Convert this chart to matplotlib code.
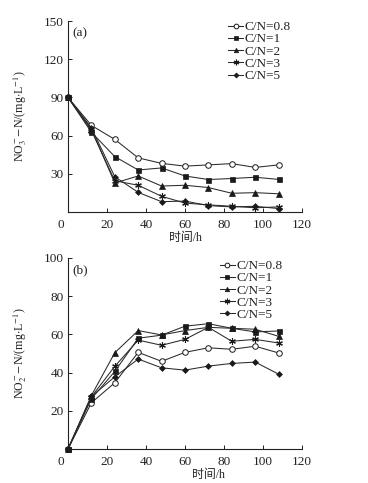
import matplotlib
matplotlib.use("Agg")
import matplotlib.pyplot as plt
import matplotlib.transforms as mtransforms

plt.rcParams['font.family'] = ['Liberation Serif', 'Noto Sans CJK SC']
plt.rcParams['mathtext.fontset'] = 'stix'

time_h = [0, 12, 24, 36, 48, 60, 72, 84, 96, 108]
labels = ['C/N=0.8', 'C/N=1', 'C/N=2', 'C/N=3', 'C/N=5']

no3 = {
    'C/N=0.8': [90, 68, 57, 42.5, 38.2, 36, 37, 38, 35, 37],
    'C/N=1':   [90, 62.6, 43.5, 33, 34.6, 28.3, 25.5, 26.3, 27.3, 25.6],
    'C/N=2':   [90, 65, 22.8, 28.3, 20.4, 21, 19.2, 14.7, 15.2, 14.3],
    'C/N=3':   [90, 64, 24.5, 21, 12.3, 7, 5.6, 4.5, 3.3, 4],
    'C/N=5':   [90, 66, 27.7, 15.4, 8.1, 8.6, 5, 4, 4.5, 2.7],
}
no2 = {
    'C/N=0.8': [0, 24.2, 34.7, 50.6, 45.9, 50.6, 53, 52.2, 53.8, 50.3],
    'C/N=1':   [0, 26.3, 40.6, 58, 59.6, 64.3, 65.6, 63.2, 61.3, 61.8],
    'C/N=2':   [0, 28, 50.4, 62, 59.7, 62, 63.7, 63.2, 62.7, 59],
    'C/N=3':   [0, 27.3, 43.3, 57, 54.3, 57.4, 63.7, 56.4, 57.4, 55.5],
    'C/N=5':   [0, 27.5, 37.8, 47.1, 42.5, 41.3, 43.4, 44.8, 45.5, 39.2],
}

styles = {
    'C/N=0.8': dict(marker='o', mfc='white', ms=4.0, mew=0.7),
    'C/N=1':   dict(marker='s', mfc='#1a1a1a', ms=3.6, mew=0.5),
    'C/N=2':   dict(marker='^', mfc='#1a1a1a', ms=3.8, mew=0.5),
    'C/N=3':   dict(marker=(6, 2, 0), mfc='#1a1a1a', ms=4.8, mew=0.8),
    'C/N=5':   dict(marker='D', mfc='#1a1a1a', ms=3.0, mew=0.5),
}

line_color = '#2a2a2a'
fs_tick = 9.5
fs = 8.6

fig = plt.figure(figsize=(3.68, 4.83), dpi=100)
W, H = 368, 483

def make_axes(top_px, bottom_px):
    return fig.add_axes([68 / W, (H - bottom_px) / H, 234 / W, (bottom_px - top_px) / H])

ax1 = make_axes(21, 212)
ax2 = make_axes(258, 449)

def style_axes(ax, ymax, yticks, ylabel, tag, legend_bbox, xlabel_x):
    ax.set_xlim(0, 120)
    ax.set_ylim(0, ymax)
    ax.set_xticks([0, 20, 40, 60, 80, 100, 120])
    ax.set_yticks(yticks)
    for s in ['top', 'right']:
        ax.spines[s].set_visible(False)
    for s in ['left', 'bottom']:
        ax.spines[s].set_linewidth(0.8)
        ax.spines[s].set_color('#222222')
    ax.tick_params(direction='in', length=3, width=0.7, labelsize=fs_tick, colors='#222222', pad=3)
    ax.tick_params(axis='x', pad=5)
    # shift the "0" x label to the left (shared corner)
    lbls = ax.get_xticklabels()
    off = mtransforms.ScaledTranslation(-7 / 100, 0, fig.dpi_scale_trans)
    lbls[0].set_transform(lbls[0].get_transform() + off)
    ax.set_ylabel(ylabel, fontsize=fs, color='#222222', labelpad=4)
    ax.set_xlabel('时间/h', fontsize=fs, color='#222222', labelpad=2)
    ax.xaxis.set_label_coords(xlabel_x, -0.105)
    ax.text(0.02, 0.92, tag, transform=ax.transAxes, fontsize=fs_tick, color='#222222')
    leg = ax.legend(loc='upper left', bbox_to_anchor=legend_bbox, frameon=False,
                    fontsize=fs_tick, handlelength=1.1, handletextpad=0.15,
                    labelspacing=0.0, borderaxespad=0, borderpad=0, markerscale=0.85)
    for t in leg.get_texts():
        t.set_color('#222222')

for name in labels:
    ax1.plot(time_h, no3[name], color=line_color, lw=0.75, mec='#1a1a1a',
             label=name, clip_on=False, **styles[name])
    ax2.plot(time_h, no2[name], color=line_color, lw=0.75, mec='#1a1a1a',
             label=name, clip_on=False, **styles[name])

style_axes(ax1, 150, [30, 60, 90, 120, 150],
           r'NO$_3^-$$-$N/(mg$\cdot$L$^{-1}$)', '(a)', (0.685, 1.0), 0.5)
style_axes(ax2, 100, [20, 40, 60, 80, 100],
           r'NO$_2^-$$-$N/(mg$\cdot$L$^{-1}$)', '(b)', (0.65, 0.99), 0.6)

ax1.yaxis.set_label_coords(-0.165, 0.5)
ax2.yaxis.set_label_coords(-0.165, 0.5)

fig.savefig('out.png', dpi=100, facecolor='white')
